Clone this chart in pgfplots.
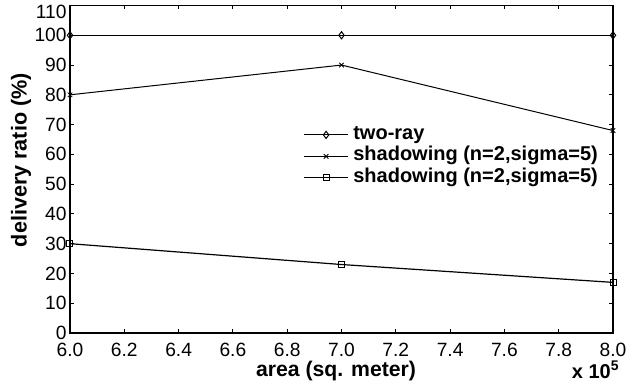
\documentclass[border=0pt]{standalone}
\usepackage{fontspec}
\setmainfont{Liberation Sans}
\usepackage{pgfplots}
\pgfplotsset{compat=1.18}
\begin{document}
\begin{tikzpicture}
\begin{axis}[
  name=ax,
  scale only axis,
  width=271.5pt, height=163.75pt,
  xmin=6.0, xmax=8.0, ymin=0, ymax=110,
  xtick={6.0,6.2,...,8.01},
  ytick={0,10,...,100},
  extra y ticks={110},
  extra y tick style={yticklabel style={yshift=-3pt}},
  xticklabel style={/pgf/number format/fixed, /pgf/number format/fixed zerofill, /pgf/number format/precision=1,
    font=\fontsize{9.6}{10}\selectfont, anchor=base, inner sep=0pt, yshift=-11.8pt},
  yticklabel style={font=\fontsize{9.6}{10}\selectfont, anchor=east, inner sep=0pt, xshift=-1.5pt},
  /pgf/number format/assume math mode=true,
  tick align=inside,
  major tick length=1.8pt,
  axis line style={line width=0.75pt},
  tick style={line width=0.5pt, black},
  xlabel={\textbf{area (sq. meter)}},
  ylabel={\textbf{delivery ratio (\%)}},
  xlabel style={font=\fontsize{10.6}{11}\selectfont, at={(axis description cs:0.49,-0.132)}, anchor=base, inner sep=0pt},
  ylabel style={font=\fontsize{10.8}{11}\selectfont, at={(axis description cs:-0.090,0.528)}, anchor=center, inner sep=0pt},
  legend image code/.code={\draw[mark repeat=2,mark phase=2,#1] plot coordinates {(0cm,0cm) (0.38cm,0cm) (0.76cm,0cm)};},
  legend style={at={(0.43,0.639)}, anchor=north west, draw=none, fill=none, inner sep=0pt,
    font=\fontsize{10}{10.75}\selectfont\bfseries, row sep=0pt,
    nodes={inner ysep=0pt, inner xsep=2.5pt, text height=7.5pt, text depth=3.25pt}},
  legend cell align=left,
  clip=false,
]
\addplot[black, line width=0.6pt, mark=diamond, mark size=1.8pt, mark options={solid, line width=0.5pt}]
  coordinates {(6.0,100) (7.0,100) (8.0,100)};
\addlegendentry{two-ray}
\addplot[black, line width=0.5pt, mark=x, mark size=1.6pt, mark options={solid, line width=0.4pt}]
  coordinates {(6.0,80) (7.0,90) (8.0,68)};
\addlegendentry{shadowing (n=2,sigma=5)}
\addplot[black, line width=0.6pt, mark=square, mark size=1.5pt, mark options={solid, line width=0.5pt}]
  coordinates {(6.0,30) (7.0,23) (8.0,17)};
\addlegendentry{shadowing (n=2,sigma=5)}
\node[anchor=base east, inner sep=0pt, font=\fontsize{10}{11}\selectfont\bfseries] at ([yshift=-22.5pt, xshift=3.5pt]rel axis cs:1,0) {x 10\textsuperscript{5}};
\end{axis}
\pgfresetboundingbox
\path ([xshift=-35pt,yshift=-27pt]ax.south west) rectangle ([xshift=7pt,yshift=2.75pt]ax.north east);
\end{tikzpicture}
\end{document}
